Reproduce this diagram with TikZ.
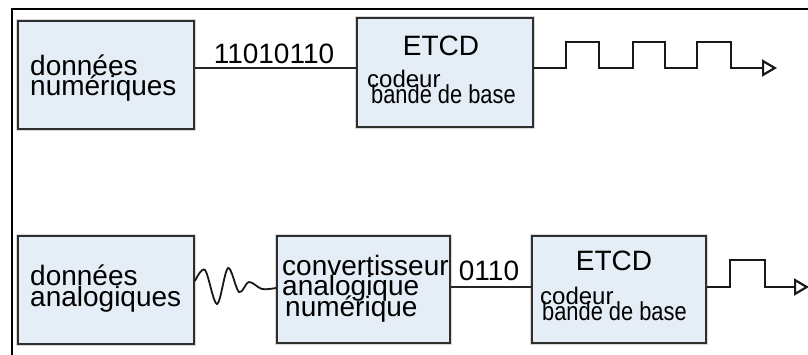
\documentclass[tikz,border=0pt]{standalone}
\usepackage{fontspec}
\setmainfont{Liberation Sans}
\usetikzlibrary{arrows.meta}
\definecolor{boxfill}{HTML}{E5EDF6}
\definecolor{boxline}{HTML}{2E2E2E}
% text sizes with tight line spacing
\newcommand\bigtext{\fontsize{28}{20.5}\selectfont\lineskiplimit=-50pt\relax}
\newcommand\smalltext{\fontsize{26}{16}\selectfont\lineskiplimit=-50pt\relax}
\begin{document}
\begin{tikzpicture}[x=1pt,y=-1pt,
  blk/.style={draw=boxline, line width=2pt, fill=boxfill, rectangle, inner sep=0pt,
              preaction={draw=black!15, line width=4.5pt}},
  txt/.style={font=\bigtext, inner sep=0pt, align=left},
  small/.style={font=\smalltext, inner sep=0pt, align=left},
  wire/.style={line width=1.6pt, draw=black!85},
  sig/.style={line width=2.2pt, line join=miter, draw=black!90},
  tip/.style={-{Triangle[open, length=15pt, width=17pt]}}
]
\clip (0,0) rectangle (808,354);
\fill[white] (0,0) rectangle (808,354);
% outer frame
\draw[line width=2.5pt] (830,9) -- (12,9) -- (12,370);

% ---- digital chain ----
% (multi-line nodes: the base anchor sits on the last line)
\node[blk, minimum width=176pt, minimum height=108pt] (dnum) at (106,75) {};
\node[txt, anchor=base west] (dnumT) at (30,95.5) {données\\numériques};

\node[blk, minimum width=176pt, minimum height=109pt] (etcd1) at (445,72.5) {};
\node[txt, anchor=base] (etcd1T) at (441,55) {ETCD};
\node[small, anchor=base west] (etcd1S) at (367,103.5) {{\fontsize{24}{16}\selectfont codeur}\\\hspace*{4pt}\scalebox{0.84}[1]{bande de base}};

\coordinate (r1) at (0,68);
\draw[wire] (dnum.east |- r1) -- (etcd1.west |- r1);
\node[txt, anchor=base] (bits1) at (274,63) {11010110};

\coordinate (out1) at (777,68);
\draw[sig, tip] (etcd1.east |- r1) -- ++(32,0) -- ++(0,-26) -- ++(33,0) -- ++(0,26)
  -- ++(34,0) -- ++(0,-26) -- ++(32,0) -- ++(0,26)
  -- ++(32,0) -- ++(0,-26) -- ++(34,0) -- ++(0,26) -- (out1);

% ---- analog chain ----
\node[blk, minimum width=176pt, minimum height=108pt] (dana) at (106,290) {};
\node[txt, anchor=base west] (danaT) at (30,306) {données\\analogiques};

\node[blk, minimum width=173pt, minimum height=107pt] (conv) at (363.5,289.5) {};
\node[txt, anchor=base west] (convT) at (282,316) {convertisseur\\analogique\\\hspace*{3pt}numérique};

\node[blk, minimum width=174pt, minimum height=107pt] (etcd2) at (619,289.5) {};
\node[txt, anchor=base] (etcd2T) at (614,270) {ETCD};
\node[small, anchor=base west] (etcd2S) at (540,320.5) {{\fontsize{24}{16}\selectfont codeur}\\\hspace*{2pt}\scalebox{0.84}[1]{bande de base}};

\coordinate (w0) at (dana.east |- 0,281);
\coordinate (w1) at (conv.west |- 0,288);
\draw[sig, line width=1.8pt] plot[smooth, tension=0.55] coordinates
  {(w0) (205,270) (217,304) (228,268) (239,292) (249,282) (262,289) (w1)};

\coordinate (r2) at (0,287);
\draw[wire] (conv.east |- r2) -- (etcd2.west |- r2);
\node[txt, anchor=base] (bits2) at (489,280) {0110};

\coordinate (out2) at (809,287);
\draw[sig, tip] (etcd2.east |- r2) -- ++(23,0) -- ++(0,-27) -- ++(35,0) -- ++(0,27) -- (out2);
\end{tikzpicture}
\end{document}
